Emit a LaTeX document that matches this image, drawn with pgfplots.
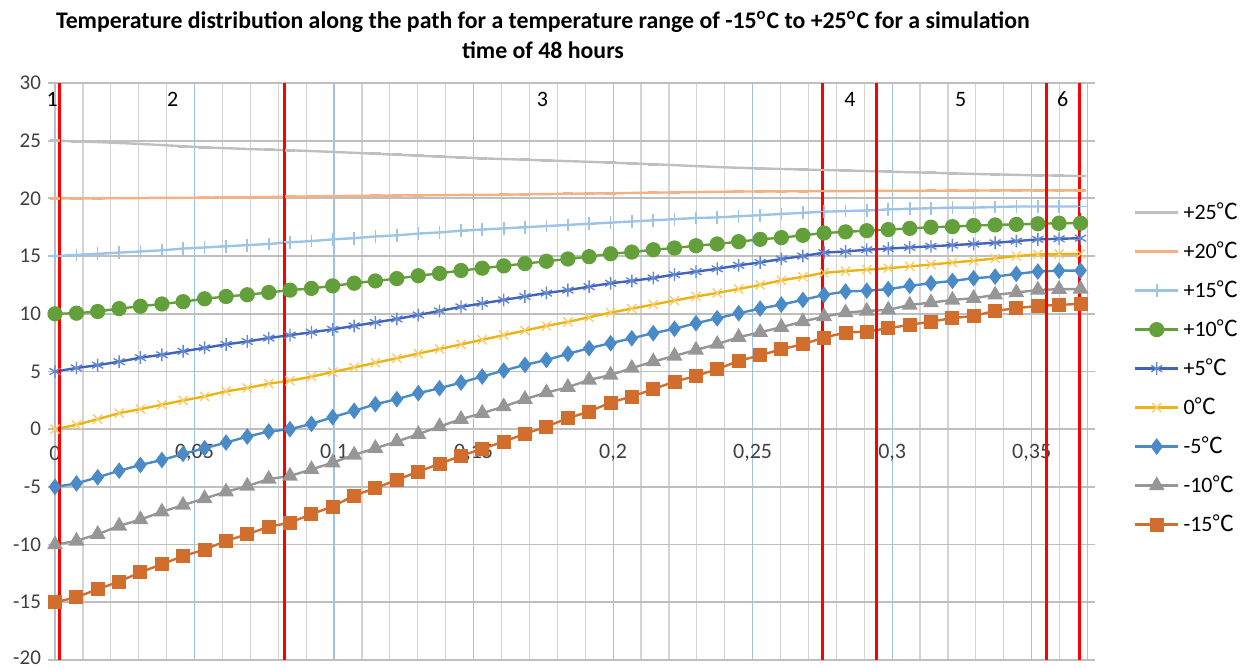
\documentclass[border=0pt]{standalone}
\usepackage{pgfplots}
\pgfplotsset{compat=1.18}
\usepackage{pgfplotstable}
\usepackage{fontspec}
\setmainfont{Carlito}
\newfontfamily\cjk{Noto Sans CJK SC}
\newcommand{\dC}{{\cjk ℃}}
\definecolor{gridgray}{RGB}{212,212,212}
\definecolor{gridgraydk}{RGB}{191,191,191}
\definecolor{gridblue}{RGB}{157,195,230}
\definecolor{labelcol}{RGB}{64,64,64}
\definecolor{c25}{RGB}{191,191,191}
\definecolor{c20}{RGB}{244,177,131}
\definecolor{c15}{RGB}{157,195,230}
\definecolor{c10}{RGB}{99,160,60}
\definecolor{c5}{RGB}{65,100,185}
\definecolor{c5m}{RGB}{100,135,210}
\definecolor{c0}{RGB}{235,180,20}
\definecolor{c0m}{RGB}{245,205,110}
\definecolor{cm5}{RGB}{74,138,199}
\definecolor{cm10}{RGB}{150,150,150}
\definecolor{cm15}{RGB}{210,110,45}

\pgfplotstableread{
x p25 p20 p15 p10 p5 z0 m5 m10 m15
0.0000 25.00 20.00 15.00 10.00 5.00 0.00 -5.00 -10.00 -15.00
0.0077 24.95 20.00 15.10 10.05 5.30 0.38 -4.70 -9.68 -14.56
0.0153 24.88 20.00 15.20 10.20 5.55 0.87 -4.17 -9.10 -13.87
0.0230 24.80 20.02 15.30 10.45 5.85 1.39 -3.60 -8.38 -13.20
0.0306 24.72 20.03 15.40 10.65 6.20 1.74 -3.10 -7.83 -12.40
0.0383 24.62 20.05 15.50 10.85 6.45 2.12 -2.67 -7.16 -11.70
0.0459 24.52 20.05 15.65 11.05 6.75 2.49 -2.14 -6.58 -11.00
0.0536 24.42 20.07 15.75 11.30 7.05 2.84 -1.65 -6.00 -10.43
0.0613 24.35 20.10 15.85 11.50 7.35 3.28 -1.16 -5.42 -9.68
0.0689 24.28 20.10 15.95 11.65 7.60 3.57 -0.64 -4.93 -9.10
0.0766 24.22 20.12 16.05 11.85 7.90 3.94 -0.20 -4.32 -8.46
0.0842 24.17 20.15 16.20 12.05 8.15 4.20 0.00 -4.06 -8.10
0.0919 24.10 20.17 16.30 12.20 8.40 4.55 0.46 -3.48 -7.36
0.0995 24.03 20.20 16.45 12.42 8.65 4.95 1.04 -2.90 -6.70
0.1072 23.95 20.22 16.55 12.65 8.95 5.35 1.59 -2.23 -5.75
0.1148 23.87 20.23 16.70 12.85 9.25 5.75 2.16 -1.65 -5.11
0.1225 23.78 20.25 16.80 13.05 9.55 6.15 2.60 -1.07 -4.39
0.1302 23.70 20.27 16.95 13.30 9.90 6.55 3.12 -0.43 -3.67
0.1378 23.62 20.28 17.05 13.50 10.25 6.95 3.55 0.23 -3.00
0.1455 23.54 20.30 17.20 13.75 10.60 7.35 4.04 0.87 -2.31
0.1531 23.47 20.30 17.30 13.95 10.90 7.75 4.56 1.39 -1.70
0.1608 23.41 20.32 17.40 14.15 11.20 8.15 5.08 1.96 -1.07
0.1684 23.35 20.35 17.50 14.35 11.50 8.55 5.57 2.60 -0.41
0.1761 23.29 20.37 17.60 14.55 11.80 8.95 6.00 3.17 0.23
0.1838 23.23 20.40 17.70 14.75 12.05 9.30 6.53 3.64 0.95
0.1914 23.17 20.42 17.80 14.95 12.35 9.70 7.02 4.27 1.53
0.1991 23.10 20.45 17.90 15.20 12.65 10.10 7.45 4.70 2.31
0.2067 23.03 20.47 18.00 15.35 12.85 10.45 7.88 5.29 2.83
0.2144 22.96 20.50 18.10 15.55 13.10 10.80 8.32 5.86 3.47
0.2220 22.88 20.52 18.20 15.70 13.40 11.15 8.70 6.35 4.12
0.2297 22.80 20.55 18.30 15.90 13.65 11.50 9.18 6.87 4.62
0.2373 22.72 20.57 18.35 16.05 13.90 11.80 9.61 7.37 5.20
0.2450 22.65 20.60 18.45 16.25 14.20 12.15 10.05 7.97 5.92
0.2527 22.60 20.60 18.55 16.45 14.45 12.50 10.45 8.40 6.40
0.2603 22.55 20.62 18.65 16.60 14.75 12.90 10.80 8.84 6.93
0.2680 22.50 20.62 18.75 16.80 15.00 13.20 11.20 9.33 7.36
0.2756 22.46 20.63 18.85 17.00 15.30 13.55 11.64 9.76 7.94
0.2833 22.42 20.63 18.90 17.10 15.40 13.70 11.93 10.10 8.37
0.2909 22.37 20.64 18.95 17.20 15.55 13.82 12.00 10.25 8.46
0.2986 22.32 20.65 19.05 17.30 15.65 13.95 12.13 10.34 8.75
0.3063 22.27 20.65 19.10 17.40 15.75 14.10 12.42 10.77 9.04
0.3139 22.22 20.66 19.15 17.50 15.85 14.27 12.65 10.97 9.33
0.3216 22.17 20.67 19.20 17.55 15.95 14.44 12.85 11.20 9.62
0.3292 22.12 20.68 19.20 17.65 16.05 14.60 13.08 11.35 9.82
0.3369 22.08 20.69 19.25 17.70 16.15 14.80 13.22 11.64 10.25
0.3445 22.04 20.70 19.30 17.75 16.30 15.00 13.46 11.84 10.49
0.3522 22.00 20.70 19.30 17.80 16.45 15.15 13.66 12.07 10.68
0.3598 21.97 20.70 19.30 17.85 16.50 15.18 13.74 12.13 10.77
0.3675 21.95 20.70 19.30 17.85 16.55 15.20 13.75 12.15 10.86
}\datatable

\begin{document}
\begin{tikzpicture}
\begin{axis}[
  at={(0pt,0pt)}, anchor=south west,
  scale only axis, width=516.25pt, height=288.5pt,
  clip=false,
  xmin=0, xmax=0.37, ymin=-20, ymax=30,
  xtick={0,0.05,0.1,0.15,0.2,0.25,0.3,0.35},
  xticklabels={0,{0,05},{0,1},{0,15},{0,2},{0,25},{0,3},{0,35}},
  minor xtick={0.01,0.02,0.03,0.04,0.06,0.07,0.08,0.09,0.11,0.12,0.13,0.14,0.16,0.17,0.18,0.19,0.21,0.22,0.23,0.24,0.26,0.27,0.28,0.29,0.31,0.32,0.33,0.34,0.36,0.37},
  ytick={-20,-15,-10,-5,0,5,10,15,20,25,30},
  yticklabels={\raisebox{2pt}{-20},-15,-10,-5,0,5,10,15,20,25,30},
  grid=both,
  major x grid style={draw=gridblue, line width=0.6pt},
  minor x grid style={draw=gridgray, line width=0.6pt},
  major y grid style={draw=gridgraydk, line width=0.9pt},
  axis line style={draw=gridgraydk, line width=0.9pt},
  xtick style={draw=none},
  minor tick length=0pt,
  ytick style={draw=gridgraydk, line width=0.9pt},
  tick align=outside, major tick length=3.5pt,
  xticklabel style={anchor=center, yshift=107pt, font=\fontsize{11}{12}\selectfont, text=labelcol},
  yticklabel style={font=\fontsize{10.5}{12}\selectfont, text=labelcol},
  legend style={at={(1,0.505)}, anchor=west, xshift=20pt, draw=none, fill=none,
    font=\fontsize{11}{12}\selectfont, row sep=5.6pt, legend cell align=left},
  legend image code/.code={\draw[mark repeat=2,mark phase=2,#1] plot coordinates {(0cm,0cm) (0.38cm,0cm) (0.76cm,0cm)};},
]
\addplot[color=c25, line width=1.2pt, mark=-, mark size=2.6pt, mark options={solid, line width=1.3pt}] table[x=x,y=p25]{\datatable};
\addlegendentry{+25\dC}
\addplot[color=c20, line width=1.2pt, mark=-, mark size=2.6pt, mark options={solid, line width=1.3pt}] table[x=x,y=p20]{\datatable};
\addlegendentry{+20\dC}
\addplot[color=c15, line width=1.2pt, mark=+, mark size=3.2pt, mark options={solid, line width=0.8pt}] table[x=x,y=p15]{\datatable};
\addlegendentry{+15\dC}
\addplot[color=c10, line width=1.2pt, mark=*, mark size=3.2pt, mark options={solid, fill=c10}] table[x=x,y=p10]{\datatable};
\addlegendentry{+10\dC}
\addplot[color=c5, line width=1.2pt, mark=asterisk, mark size=3.2pt, mark options={solid, draw=c5m, line width=0.7pt}] table[x=x,y=p5]{\datatable};
\addlegendentry{+5\dC}
\addplot[color=c0, line width=1.2pt, mark=x, mark size=3.2pt, mark options={solid, draw=c0m, line width=0.7pt}] table[x=x,y=z0]{\datatable};
\addlegendentry{0\dC}
\addplot[color=cm5, line width=1.2pt, mark=diamond*, mark size=3.2pt, mark options={solid, fill=cm5}] table[x=x,y=m5]{\datatable};
\addlegendentry{-5\dC}
\addplot[color=cm10, line width=1.2pt, mark=triangle*, mark size=3.4pt, mark options={solid, fill=cm10}] table[x=x,y=m10]{\datatable};
\addlegendentry{-10\dC}
\addplot[color=cm15, line width=1.2pt, mark=square*, mark size=2.9pt, mark options={solid, fill=cm15}] table[x=x,y=m15]{\datatable};
\addlegendentry{-15\dC}

\addplot[red, line width=1.5pt, forget plot] coordinates {(0.0015,-20) (0.0015,30)};
\addplot[red, line width=1.5pt, forget plot] coordinates {(0.0821,-20) (0.0821,30)};
\addplot[red, line width=1.5pt, forget plot] coordinates {(0.2752,-20) (0.2752,30)};
\addplot[red, line width=1.5pt, forget plot] coordinates {(0.2943,-20) (0.2943,30)};
\addplot[red, line width=1.5pt, forget plot] coordinates {(0.3552,-20) (0.3552,30)};
\addplot[red, line width=1.5pt, forget plot] coordinates {(0.3672,-20) (0.3672,30)};

\node[font=\fontsize{11}{12}\selectfont] at (axis cs:-0.0010,28.6) {1};
\node[font=\fontsize{11}{12}\selectfont] at (axis cs:0.0422,28.6) {2};
\node[font=\fontsize{11}{12}\selectfont] at (axis cs:0.1747,28.6) {3};
\node[font=\fontsize{11}{12}\selectfont] at (axis cs:0.2849,28.6) {4};
\node[font=\fontsize{11}{12}\selectfont] at (axis cs:0.3246,28.6) {5};
\node[font=\fontsize{11}{12}\selectfont] at (axis cs:0.3611,28.6) {6};
\end{axis}
\node[font=\bfseries\fontsize{11.9}{15}\selectfont, align=center] at (244pt,312.5pt)
  {Temperature distribution along the path for a temperature range of -15\textsuperscript{o}C to +25\textsuperscript{o}C for a simulation\\time of 48 hours};
\pgfresetboundingbox
\path[use as bounding box] (-27.5pt,-4pt) rectangle (596pt,330pt);
\end{tikzpicture}
\end{document}
